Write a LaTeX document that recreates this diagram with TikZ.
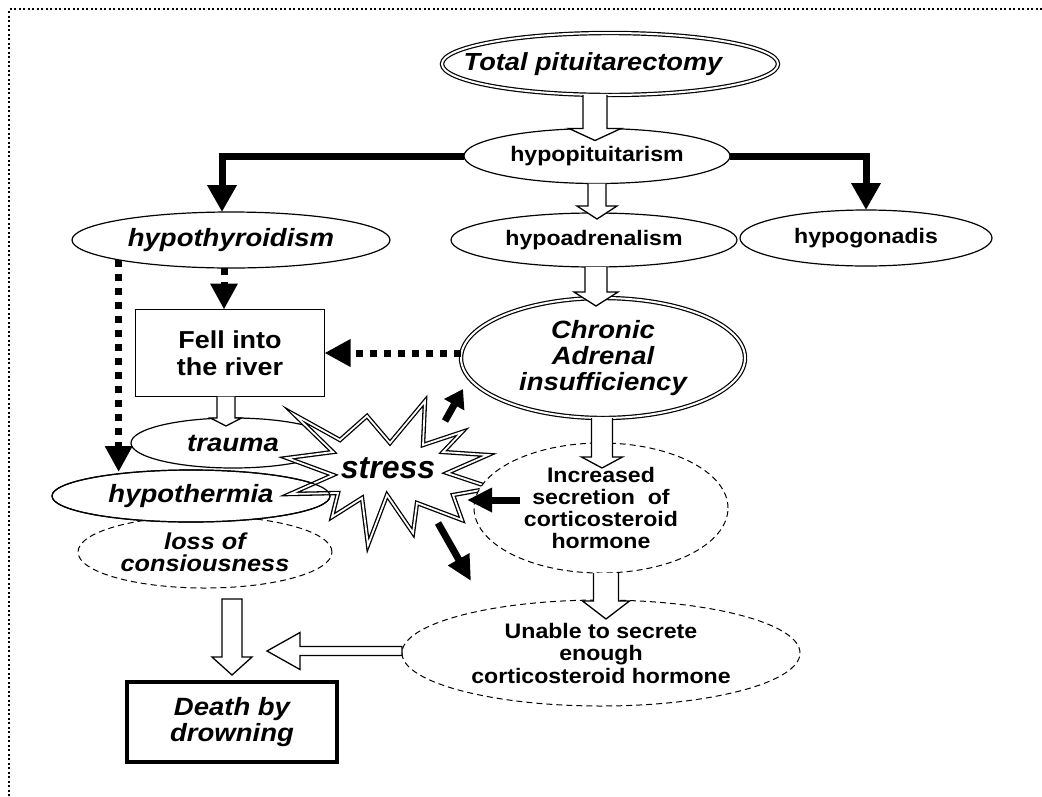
\documentclass[tikz,border=0pt]{standalone}
\usepackage{fontspec}
\setmainfont[FakeStretch=1.1]{Liberation Sans}
\newfontfamily\stressfont{Liberation Sans}
\usetikzlibrary{shapes.geometric,arrows.meta,calc}

\tikzset{
  every node/.style={inner sep=0pt, outer sep=0pt},
  ell/.style={ellipse, draw, line width=1.2pt, fill=white, align=center},
  dbl/.style={ellipse, draw, line width=1.2pt, double, double distance=2pt, fill=white, align=center},
  dsh/.style={ellipse, draw, line width=1pt, dash pattern=on 6pt off 4pt, fill=white, align=center},
  bx/.style={rectangle, draw, line width=1.6pt, fill=white, align=center},
  hollow/.style={draw, line width=1.3pt, fill=white, line join=miter},
  thk/.style={line width=7pt, line join=miter, -{Triangle[length=27pt,width=28pt]}},
  dotarr/.style={line width=7pt, dash pattern=on 7pt off 7pt, -{Triangle[length=26pt,width=26pt]}},
  blka/.style={line width=7pt, -{Triangle[length=18pt,width=22pt]}},
  blkb/.style={line width=7pt, -{Triangle[length=25pt,width=23pt]}},
  framesty/.style={line width=2pt, dash pattern=on 2pt off 2.5pt},
  starsty/.style={line width=1.3pt, double, double distance=1.8pt, fill=white, line join=miter},
  fA/.style={font=\fontsize{24.7}{26}\selectfont\bfseries\itshape},
  fB/.style={font=\fontsize{21}{23}\selectfont\bfseries},
  fC/.style={font=\fontsize{25}{26}\selectfont\bfseries\itshape},
  fD/.style={font=\fontsize{24.5}{27}\selectfont\bfseries},
  fE/.style={font=\fontsize{23}{22}\selectfont\bfseries\itshape},
  fF/.style={font=\fontsize{21}{22}\selectfont\bfseries},
  fG/.style={font=\fontsize{21}{22.5}\selectfont\bfseries},
  fS/.style={font=\stressfont\fontsize{32}{34}\selectfont\bfseries\itshape},
}

% downward hollow block arrow: [closing] start, end, shaft half, head half, head length
\newcommand\blockdown[6][]{%
  \draw[hollow] let \p1=(#2), \p2=(#3) in
    (\x2-#4pt,\y1) -- (\x2-#4pt,\y2+#6pt) -- (\x2-#5pt,\y2+#6pt) -- (\x2,\y2)
    -- (\x2+#5pt,\y2+#6pt) -- (\x2+#4pt,\y2+#6pt) -- (\x2+#4pt,\y1) #1;}
% leftward hollow block arrow: start, end, shaft half, head half, head length
\newcommand\blockleft[5]{%
  \draw[hollow] let \p1=(#1), \p2=(#2) in
    (\x1,\y2+#3pt) -- (\x2+#5pt,\y2+#3pt) -- (\x2+#5pt,\y2+#4pt) -- (\x2,\y2)
    -- (\x2+#5pt,\y2-#4pt) -- (\x2+#5pt,\y2-#3pt) -- (\x1,\y2-#3pt) -- cycle;}

\begin{document}
\begin{tikzpicture}[x=1pt,y=-1pt]
\useasboundingbox (0,0) rectangle (1042,796);

% frame
\draw[framesty] (1042,9) -- (9,9) -- (9,796);

% upper nodes
\node[dbl, fA, minimum width=336pt, minimum height=62pt] (tp) at (610,64) {\hspace*{-34pt}Total pituitarectomy};
\node[ell, fB, minimum width=266pt, minimum height=55pt] (hpit) at (597,156) {hypopituitarism};
\node[ell, fC, minimum width=318pt, minimum height=56pt] (hyt) at (231,240) {hypothyroidism};
\node[ell, fB, minimum width=286pt, minimum height=54pt] (had) at (594,240) {hypoadrenalism};
\node[ell, fB, minimum width=252pt, minimum height=56pt] (hgo) at (866,238) {hypogonadis};
\node[dbl, fC, minimum width=284pt, minimum height=120pt] (car) at (603,358) {Chronic\\Adrenal\\insufficiency};
\node[bx, fD, minimum width=189pt, minimum height=87pt] (fell) at (230,353) {Fell into\\the river};

% thick elbow connectors
\draw[thk] (hpit.west) -| ([xshift=-9pt]hyt.north);
\draw[thk] (hpit.east) -| (hgo.north);

% left cluster
\node[dsh, fE, minimum width=254pt, minimum height=72pt] (loss) at (205,552) {loss of\\consiousness};
\node[ell, fC, minimum width=204pt, minimum height=50pt] (trauma) at (233,443) {trauma};
\node[ell, fC, minimum width=278pt, minimum height=52pt] (hth) at (191,496) {hypothermia};

% star
\draw[starsty] (295,415) -- (340,440) -- (367,416) -- (390,443) -- (425,401) -- (423,445)
  -- (462,432) -- (443,452) -- (488,455) -- (447,473) -- (492,488) -- (453,495)
  -- (462,520) -- (417,503) -- (413,533) -- (387,495) -- (368,545) -- (362,498)
  -- (332,517) -- (338,493) -- (290,494) -- (333,475) -- (287,458) -- (333,452) -- cycle;
\draw[line width=1.2pt] (hth.center) ellipse [x radius=139, y radius=26];
\node[fS] (stress) at (388,468) {stress};

% right lower nodes
\node[dsh, fF, minimum width=254pt, minimum height=130pt] (incr) at (601,508) {Increased\\secretion\ \ of\\corticosteroid\\hormone};
\node[dsh, fG, minimum width=398pt, minimum height=106pt] (unable) at (601,653) {Unable to secrete\\enough\\corticosteroid hormone};
\node[bx, line width=3.5pt, fC, minimum width=210pt, minimum height=80pt] (death) at (232,722) {Death by\\drowning};

% hollow block arrows
\coordinate (e1) at ($(hpit.north)+(-2,12)$);
\blockdown{tp.south}{e1}{12}{26}{12}
\coordinate (e2) at ($(had.north)+(3,6)$);
\blockdown{hpit.south}{e2}{9}{20}{13}
\coordinate (e3) at ($(car.north)+(-7,8)$);
\blockdown{had.south}{e3}{11}{22}{14}
\coordinate (e4t) at ($(incr.north)+(1,25)$);
\blockdown{car.south}{e4t}{10.5}{20.5}{11}
\coordinate (e5) at ($(unable.north)+(5,19)$);
\blockdown{incr.south}{e5}{12.5}{23.5}{18}
\coordinate (e6) at ($(trauma.north)+(-7,8)$);
\blockdown{fell.south}{e6}{9}{15.5}{8}
\coordinate (s7) at ($(loss.south)+(0,11)$);
\coordinate (e7) at ($(death.north)+(0,-7)$);
\blockdown[-- cycle]{s7}{e7}{10}{20}{18}
\coordinate (e8) at ($(death.north)+(35,-31)$);
\blockleft{unable.west}{e8}{4.5}{18.5}{33}

% dotted arrows
\draw[dotarr] (car.west |- fell.east) -- (fell.east);
\coordinate (fn) at ($(fell.north)+(-6,0)$);
\draw[dotarr] (fn |- hyt.south) -- (fn);
\coordinate (hv) at (hyt.190 |- hth.north);
\draw[dotarr] (hyt.190) -- ($(hv)+(0,2)$);

% black arrows around the star
\coordinate (sa0) at ($(stress)+(57,-47)$);
\coordinate (sa1) at ($(stress)+(75,-79)$);
\draw[blka] (sa0) -- (sa1);
\coordinate (sb0) at ($(incr.west)+(46,-8)$);
\coordinate (sb1) at ($(stress)+(79,32)$);
\draw[blkb] (sb0) -- (sb1);
\coordinate (sc0) at ($(stress)+(50,55)$);
\coordinate (sc1) at ($(stress)+(83,113)$);
\draw[blkb] (sc0) -- (sc1);
\end{tikzpicture}
\end{document}
